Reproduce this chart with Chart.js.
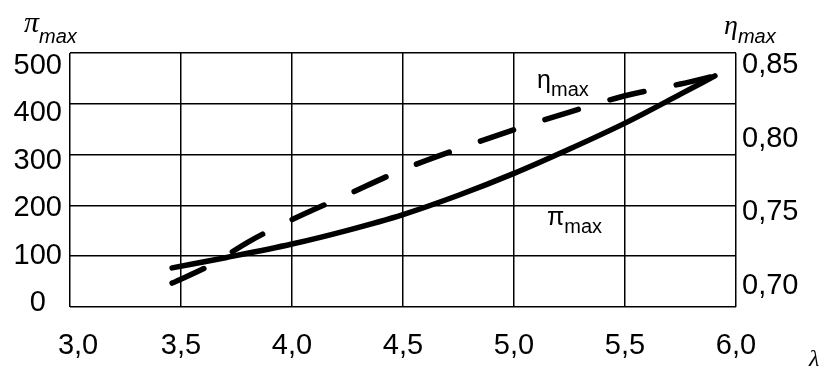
<!DOCTYPE html>
<html>
<head>
<meta charset="utf-8">
<script src="https://cdn.jsdelivr.net/npm/chart.js@4.4.0/dist/chart.umd.min.js"></script>
<style>
html, body { margin: 0; padding: 0; background: #fff; }
#wrap { width: 822px; height: 369px; }
</style>
</head>
<body>
<div id="wrap"><canvas id="chart"></canvas></div>
<script>
// values
const lambdaPi = [3.46, 3.7, 4.0, 4.25, 4.5, 4.75, 5.0, 5.25, 5.5, 5.75, 5.905];
const piMax = [77, 97, 124, 151, 182, 220, 263, 311, 362, 419, 455];
const lambdaEta = [3.46, 3.63, 3.81, 4.0, 4.25, 4.5, 4.75, 5.0, 5.25, 5.5, 5.75, 5.905];
const etaMax = [0.702, 0.714, 0.7305, 0.745, 0.762, 0.779, 0.793, 0.806, 0.818, 0.829, 0.837, 0.8425];
const piTicks = [0, 100, 200, 300, 400, 500];
const etaTicks = [0.70, 0.75, 0.80, 0.85];
const lambdaTicks = [3.0, 3.5, 4.0, 4.5, 5.0, 5.5, 6.0];

const SANS = "'Liberation Sans', Arial, sans-serif";
const SERIF = "'Liberation Serif', 'Times New Roman', serif";

function comma(v, d) {
    return Number(v).toFixed(d).replace('.', ',');
}

function setTicks(list) {
    return function(scale) {
        scale.ticks = list.map(v => ({value: v}));
    };
}

// fixed axis box sizes so the plot area lands where it is in the picture
function fixWidth(w) {
    return function(scale) { scale.width = w; };
}

// symbol with a "max" subscript
function drawSub(ctx, sym, symFont, sub, subFont, x, y, dy) {
    ctx.font = symFont;
    ctx.fillText(sym, x, y);
    const w = ctx.measureText(sym).width;
    ctx.font = subFont;
    ctx.fillText(sub, x + w, y + dy);
}

const textPlugin = {
    id: 'texts',
    afterDraw(chart) {
        const ctx = chart.ctx;
        const xs = chart.scales.x;
        const ys = chart.scales.y;
        ctx.save();
        ctx.fillStyle = '#000';
        ctx.textBaseline = 'alphabetic';
        ctx.textAlign = 'left';

        // axis titles
        drawSub(ctx, 'π', 'italic 30px ' + SERIF, 'max', 'italic 20px ' + SANS, 24, 32, 11);
        drawSub(ctx, 'η', 'italic 28px ' + SERIF, 'max', 'italic 20px ' + SANS, 724, 34, 9);

        // curve labels
        drawSub(ctx, 'η', '25px ' + SANS, 'max', '20px ' + SANS,
            xs.getPixelForValue(5.104), ys.getPixelForValue(431), 8);
        drawSub(ctx, 'π', '25px ' + SANS, 'max', '20px ' + SANS,
            xs.getPixelForValue(5.149), ys.getPixelForValue(161), 8);

        ctx.font = 'italic 24px ' + SERIF;
        ctx.fillText('λ', 809, 366);
        ctx.restore();
    }
};

const gridStyle = {color: '#000', lineWidth: 1.5, drawTicks: false};
const tickFont = {family: SANS, size: 29};

new Chart(document.getElementById('chart'), {
    type: 'line',
    data: {
        datasets: [
            {
                label: 'η max',
                data: lambdaEta.map((x, i) => ({x: x, y: etaMax[i]})),
                yAxisID: 'y2',
                borderColor: '#000',
                borderWidth: 5.5,
                borderDash: [35, 33],
                borderCapStyle: 'round',
                cubicInterpolationMode: 'monotone',
                pointRadius: 0,
                fill: false
            },
            {
                label: 'π max',
                data: lambdaPi.map((x, i) => ({x: x, y: piMax[i]})),
                yAxisID: 'y',
                borderColor: '#000',
                borderWidth: 5.5,
                borderCapStyle: 'round',
                cubicInterpolationMode: 'monotone',
                pointRadius: 0,
                fill: false
            }
        ]
    },
    options: {
        responsive: true,
        maintainAspectRatio: false,
        animation: false,
        devicePixelRatio: 1,
        layout: {padding: {left: 0, right: 0, top: 53, bottom: 0}},
        plugins: {legend: {display: false}, tooltip: {enabled: false}},
        scales: {
            x: {
                type: 'linear',
                min: 3,
                max: 6,
                afterBuildTicks: setTicks(lambdaTicks),
                afterFit: s => { s.height = 62; },
                grid: gridStyle,
                border: {display: false},
                ticks: {
                    color: '#000', font: tickFont, padding: 22,
                    autoSkip: false, maxRotation: 0,
                    // the first label sits a little right of its line in the picture
                    callback: (v, i) => (i === 0 ? '  ' : '') + comma(v, 1)
                }
            },
            y: {
                position: 'left',
                min: 0,
                max: 500,
                afterBuildTicks: setTicks(piTicks),
                afterFit: fixWidth(0),
                grid: gridStyle,
                border: {display: false},
                ticks: {display: false}
            },
            yl: {
                position: 'left',
                min: -8.4,
                max: 527.4,
                afterBuildTicks: setTicks(piTicks),
                afterFit: fixWidth(70),
                grid: {display: false, drawTicks: false},
                border: {display: false},
                ticks: {color: '#000', font: tickFont, padding: 8, crossAlign: 'center', callback: v => String(v)}
            },
            y2: {
                position: 'right',
                min: 0.6858,
                max: 0.858,
                afterBuildTicks: setTicks(etaTicks),
                afterFit: fixWidth(86),
                grid: {display: false, drawTicks: false},
                border: {display: false},
                ticks: {color: '#000', font: tickFont, padding: 6, callback: v => comma(v, 2)}
            }
        }
    },
    plugins: [textPlugin]
});
</script>
</body>
</html>
